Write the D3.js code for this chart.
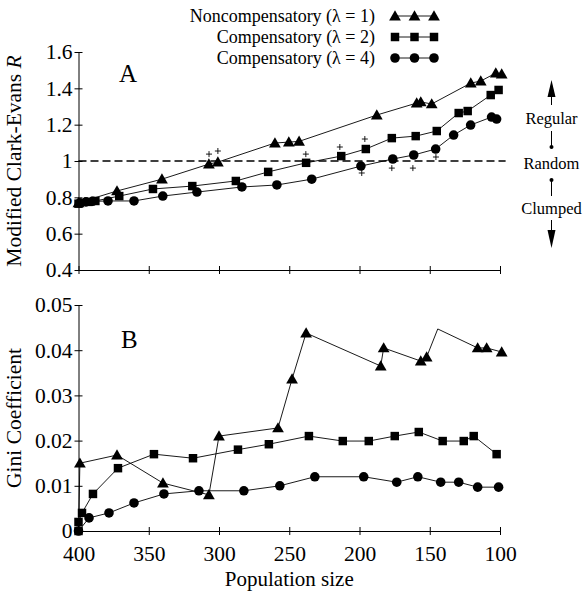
<!DOCTYPE html>
<html>
<head>
<meta charset="utf-8">
<script src="https://cdn.jsdelivr.net/npm/d3@7"></script>
<style>
  body { margin: 0; background: #fff; }
  text { font-family: "Liberation Serif", "DejaVu Serif", serif; fill: #000; }
</style>
</head>
<body>
<div id="chart"></div>
<script>
// population sizes (x)
const xTicks = [400, 350, 300, 250, 200, 150, 100];
const rTicks = [0.4, 0.6, 0.8, 1, 1.2, 1.4, 1.6];
const gTicks = [0, 0.01, 0.02, 0.03, 0.04, 0.05];

// panel A - modified Clark-Evans R
const triPopA = [400, 372.6, 340.6, 307.2, 300.8, 260.2, 250.3, 243, 187.7, 159.3, 156.4, 148.6, 120.8, 113.7, 103, 98.8];
const triR    = [0.77, 0.835, 0.90, 0.983, 0.994, 1.099, 1.104, 1.108, 1.253, 1.319, 1.325, 1.314, 1.429, 1.44, 1.484, 1.479];
const sqPopA  = [400, 393, 388, 371, 347, 319, 288, 265, 238, 213, 195.5, 177, 160, 145, 129.4, 123, 106.6, 101];
const sqR     = [0.765, 0.775, 0.78, 0.807, 0.846, 0.862, 0.89, 0.94, 0.99, 1.027, 1.066, 1.126, 1.137, 1.165, 1.264, 1.275, 1.363, 1.391];
const ciPopA  = [399, 394.7, 390, 379, 360.5, 340, 315.7, 283.7, 258.8, 234, 199, 176.3, 161.4, 145.8, 133, 120.9, 106, 102.4];
const ciR     = [0.77, 0.775, 0.778, 0.78, 0.78, 0.807, 0.829, 0.857, 0.868, 0.90, 0.972, 1.011, 1.033, 1.066, 1.143, 1.198, 1.242, 1.231];
const plusPop = [307.1, 300.8, 238.2, 214, 196.2, 198.4, 177, 162, 145.6];
const plusR   = [1.038, 1.055, 1.038, 1.077, 1.121, 0.934, 0.961, 0.961, 1.022];

// panel B - Gini coefficient
const triPopB = [400, 399, 372.6, 339.9, 307.2, 300, 258, 248, 238, 184.9, 182.8, 156.4, 152.2, 144.3, 115.9, 109.5, 98.8];
const triG    = [0, 0.015, 0.0168, 0.0106, 0.008, 0.021, 0.0228, 0.0336, 0.0438, 0.0365, 0.0405, 0.0376, 0.0385, 0.0447, 0.0405, 0.0405, 0.0396];
const triNoMarkB = [0, 13];
const sqPopB  = [400, 400, 397.5, 389.7, 371.9, 346.3, 318.5, 286.5, 264.5, 236, 211.9, 193.4, 174.9, 157.8, 140.8, 125.8, 118.7, 102.4];
const sqG     = [0, 0.002, 0.004, 0.0082, 0.0139, 0.017, 0.0161, 0.018, 0.0192, 0.021, 0.0199, 0.0199, 0.021, 0.0219, 0.0199, 0.0199, 0.021, 0.017];
const ciPopB  = [400, 392.5, 378.3, 360.5, 339.2, 314.3, 282.3, 256.7, 231.8, 197, 173.5, 158.5, 142.2, 129.4, 115.9, 101];
const ciG     = [0, 0.0029, 0.004, 0.0062, 0.0082, 0.0089, 0.0089, 0.01, 0.012, 0.012, 0.0108, 0.012, 0.0108, 0.0108, 0.0097, 0.0097];

const legendLabels = ["Noncompensatory (\u03bb = 1)", "Compensatory (\u03bb = 2)", "Compensatory (\u03bb = 4)"];
const legendShapes = ["tri", "sq", "ci"];

const width = 583, height = 603;

const svg = d3.select("#chart").append("svg")
  .attr("width", width)
  .attr("height", height);

const x = d3.scaleLinear().domain([400, 100]).range([78.5, 500]);
const yA = d3.scaleLinear().domain([0.4, 1.6]).range([270, 52]);
const yB = d3.scaleLinear().domain([0, 0.05]).range([531, 305]);

const fmt = d => d === 0 ? "0" : (d === 1 ? "1" : String(d));

function drawAxes(y, ticks, showXLabels) {
  const gx = svg.append("g")
    .attr("transform", `translate(0,${y.range()[0]})`)
    .call(d3.axisBottom(x).tickValues(xTicks).tickSize(4).tickSizeOuter(0)
      .tickFormat(showXLabels ? d3.format("d") : ""));
  gx.selectAll(".tick line").attr("y1", -4).attr("y2", 4);
  gx.selectAll(".tick text").attr("dy", "1.05em");

  const gy = svg.append("g")
    .attr("transform", `translate(${x.range()[0]},0)`)
    .call(d3.axisLeft(y).tickValues(ticks).tickSize(4).tickSizeOuter(0).tickFormat(fmt));
  gy.selectAll(".tick line").attr("x1", -4).attr("x2", 4);
  gy.selectAll(".tick text").attr("x", -6);

  [gx, gy].forEach(g => {
    g.select(".domain").attr("stroke", "#000").attr("stroke-width", 1);
    g.selectAll(".tick line").attr("stroke", "#000").attr("stroke-width", 1);
    g.selectAll(".tick text")
      .style("font-family", "'Liberation Serif', serif")
      .style("font-size", "21.5px");
  });
}

drawAxes(yA, rTicks, false);
drawAxes(yB, gTicks, true);

// dashed random line
svg.append("line")
  .attr("x1", x(400)).attr("x2", x(96))
  .attr("y1", yA(1)).attr("y2", yA(1))
  .attr("stroke", "#000")
  .attr("stroke-width", 1.6)
  .attr("stroke-dasharray", "8,4");

const symTri = d3.symbol().type(d3.symbolTriangle).size(60);
const symSq = d3.symbol().type(d3.symbolSquare).size(72);
const symCi = d3.symbol().type(d3.symbolCircle).size(72);
const shapes = {tri: symTri, sq: symSq, ci: symCi};

function drawSeries(pops, vals, y, shape, noMark) {
  const pts = pops.map((p, i) => [p, vals[i], i]);
  svg.append("path")
    .datum(pts)
    .attr("fill", "none")
    .attr("stroke", "#000")
    .attr("stroke-width", 0.9)
    .attr("d", d3.line().x(d => x(d[0])).y(d => y(d[1])));
  svg.append("g").selectAll("path")
    .data(pts.filter(d => !(noMark || []).includes(d[2])))
    .enter()
    .append("path")
    .attr("transform", d => `translate(${x(d[0])},${y(d[1]) + (shape === "tri" ? 1 : 0)})`)
    .attr("d", shapes[shape])
    .attr("fill", "#000");
}

drawSeries(triPopA, triR, yA, "tri");
drawSeries(sqPopA, sqR, yA, "sq");
drawSeries(ciPopA, ciR, yA, "ci");

svg.append("g").selectAll("path")
  .data(plusPop.map((p, i) => [p, plusR[i]]))
  .enter()
  .append("path")
  .attr("d", d => `M${x(d[0]) - 3},${yA(d[1])}h6M${x(d[0])},${yA(d[1]) - 3}v6`)
  .attr("stroke", "#000")
  .attr("stroke-width", 0.9);

drawSeries(triPopB, triG, yB, "tri", triNoMarkB);
drawSeries(sqPopB, sqG, yB, "sq");
drawSeries(ciPopB, ciG, yB, "ci");

// panel letters
svg.append("text").attr("x", 119).attr("y", 82).style("font-size", "25px").text("A");
svg.append("text").attr("x", 121).attr("y", 348).style("font-size", "25px").text("B");

// axis titles
svg.append("text")
  .attr("transform", `translate(21,${yA(1)}) rotate(-90)`)
  .attr("text-anchor", "middle")
  .style("font-size", "21.5px")
  .html('Modified Clark-Evans <tspan font-style="italic">R</tspan>');

svg.append("text")
  .attr("transform", `translate(21,${yB(0.025)}) rotate(-90)`)
  .attr("text-anchor", "middle")
  .style("font-size", "21.5px")
  .text("Gini Coefficient");

svg.append("text")
  .attr("x", x(250))
  .attr("y", 586)
  .attr("text-anchor", "middle")
  .style("font-size", "21px")
  .text("Population size");

// legend
const legend = svg.append("g");
legendLabels.forEach((lab, i) => {
  const ly = 16 + i * 21;
  legend.append("text")
    .attr("x", 375).attr("y", ly + 6)
    .attr("text-anchor", "end")
    .style("font-size", "18px")
    .text(lab);
  legend.append("line")
    .attr("x1", 395).attr("x2", 434)
    .attr("y1", ly).attr("y2", ly)
    .attr("stroke", "#000").attr("stroke-width", 0.9);
  [395, 414.5, 434].forEach(lx => {
    legend.append("path")
      .attr("transform", `translate(${lx},${ly + (legendShapes[i] === "tri" ? 1 : 0)})`)
      .attr("d", shapes[legendShapes[i]])
      .attr("fill", "#000");
  });
});

// right-hand annotation: Regular / Random / Clumped
const ann = svg.append("g");
const ax = 551.5;
ann.append("path").attr("d", `M${ax},80 L${ax - 4},97 L${ax + 4},97 Z`).attr("fill", "#000");
ann.append("line").attr("x1", ax).attr("x2", ax).attr("y1", 95).attr("y2", 105).attr("stroke", "#000").attr("stroke-width", 1);
ann.append("text").attr("x", ax).attr("y", 124).attr("text-anchor", "middle").style("font-size", "16.5px").text("Regular");
ann.append("line").attr("x1", ax).attr("x2", ax).attr("y1", 131).attr("y2", 147).attr("stroke", "#000").attr("stroke-width", 1);
ann.append("circle").attr("cx", ax).attr("cy", 147).attr("r", 2).attr("fill", "#000");
ann.append("text").attr("x", ax).attr("y", 169).attr("text-anchor", "middle").style("font-size", "16.5px").text("Random");
ann.append("circle").attr("cx", ax).attr("cy", 180).attr("r", 2).attr("fill", "#000");
ann.append("line").attr("x1", ax).attr("x2", ax).attr("y1", 180).attr("y2", 196).attr("stroke", "#000").attr("stroke-width", 1);
ann.append("text").attr("x", ax).attr("y", 214).attr("text-anchor", "middle").style("font-size", "16.5px").text("Clumped");
ann.append("line").attr("x1", ax).attr("x2", ax).attr("y1", 220).attr("y2", 232).attr("stroke", "#000").attr("stroke-width", 1);
ann.append("path").attr("d", `M${ax},248 L${ax - 4},230 L${ax + 4},230 Z`).attr("fill", "#000");
</script>
</body>
</html>
